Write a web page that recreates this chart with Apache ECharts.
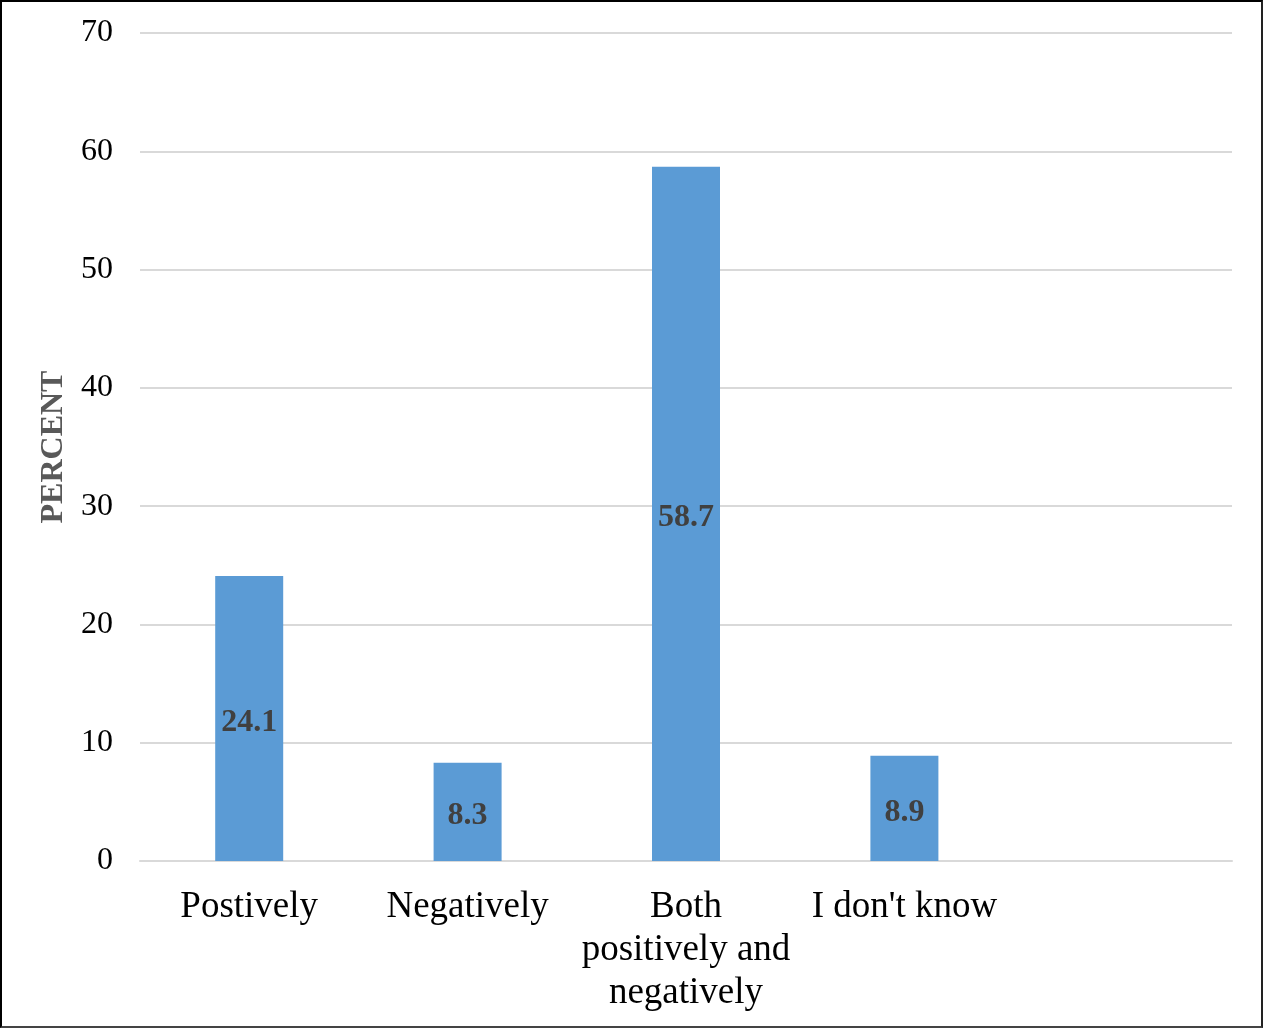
<!DOCTYPE html>
<html>
<head>
<meta charset="utf-8">
<script src="https://cdn.jsdelivr.net/npm/echarts@6/dist/echarts.min.js"></script>
<style>
  html, body { margin: 0; padding: 0; background: #fff; }
  #frame {
    width: 1263px; height: 1028px; box-sizing: border-box;
    border: 2px solid #000; border-bottom-color: #444; border-right-color: #222;
    position: relative;
  }
  #chart { position: absolute; left: -2px; top: -2px; width: 1263px; height: 1028px; }
</style>
</head>
<body>
<div id="frame"><div id="chart"></div></div>
<script>
// Responses and their shares (percent); the fifth slot is intentionally empty
const categories = ['Postively', 'Negatively', 'Both\npositively and\nnegatively', "I don't know", ''];
const percents = [24.1, 8.3, 58.7, 8.9, null];
const yTicks = { min: 0, max: 70, interval: 10 };

const serif = '"Liberation Serif", "Times New Roman", serif';
const chart = echarts.init(document.getElementById('chart'), null, { renderer: 'canvas' });

chart.setOption({
  backgroundColor: 'transparent',
  animation: false,
  grid: { left: 140, right: 31, top: 33, bottom: 167 },
  xAxis: {
    type: 'category',
    data: categories,
    axisLine: { show: true, lineStyle: { color: '#d9d9d9', width: 2 } },
    axisTick: { show: false },
    axisLabel: {
      interval: 0,
      color: '#000',
      fontFamily: serif,
      fontSize: 37,
      lineHeight: 43,
      margin: 25
    }
  },
  yAxis: {
    type: 'value',
    min: yTicks.min,
    max: yTicks.max,
    interval: yTicks.interval,
    name: 'PERCENT',
    nameLocation: 'middle',
    nameGap: 66,
    nameTextStyle: { color: '#595959', fontFamily: serif, fontSize: 32, fontWeight: 'bold' },
    axisLine: { show: false },
    axisTick: { show: false },
    splitLine: { lineStyle: { color: '#d9d9d9', width: 2 } },
    axisLabel: { color: '#000', fontFamily: serif, fontSize: 32, margin: 27, padding: [3, 0, 0, 0] }
  },
  series: [{
    type: 'bar',
    data: percents,
    barWidth: 68,
    itemStyle: { color: '#5b9bd5' },
    label: {
      show: true,
      position: 'inside',
      offset: [0, 4],
      color: '#404040',
      fontFamily: serif,
      fontSize: 32,
      fontWeight: 'bold',
      formatter: p => p.value == null ? '' : p.value.toFixed(1)
    }
  }]
});
</script>
</body>
</html>
